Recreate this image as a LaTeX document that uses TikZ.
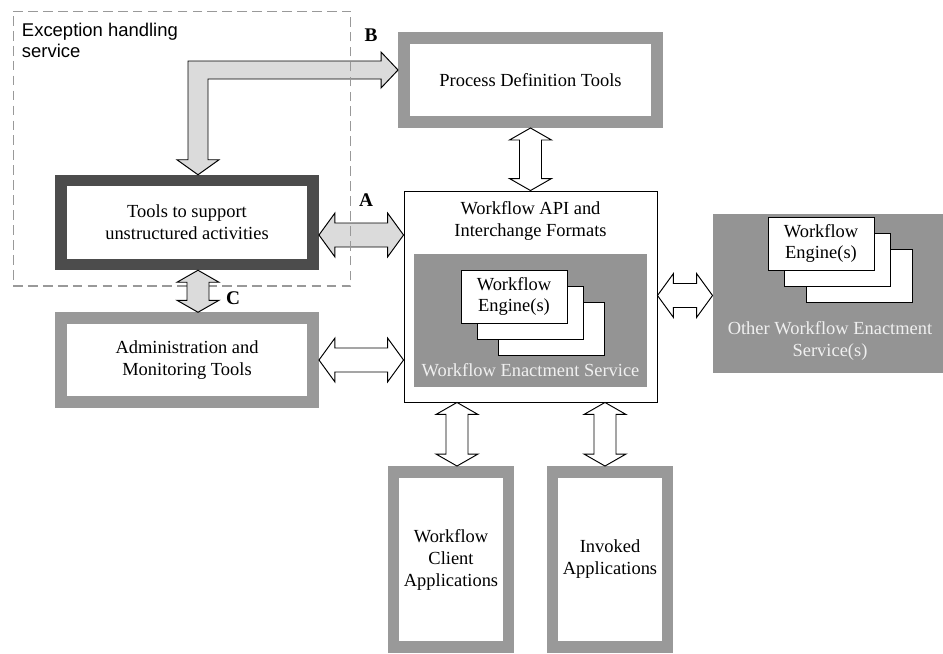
\documentclass[tikz,border=0pt]{standalone}
\usepackage{fontspec}
\setmainfont{Liberation Serif}
\newfontfamily\sansfont{Liberation Sans}
\usetikzlibrary{calc}

\newcommand{\dblh}[4]{%
\path ($(#1)+(0,#3)$) coordinate (hl) (#2 |- hl) coordinate (hr);
\draw[fill=#4] (hl) -- ++(16,-22) -- ++(0,10) -- ($(hr)+(-16,-12)$) -- ++(0,-10) -- (hr) -- ++(-16,22) -- ++(0,-10) -- ($(hl)+(16,12)$) -- ++(0,10) -- cycle;}
\newcommand{\dblv}[4]{%
\path ($(#1)+(#3,0)$) coordinate (vt) (vt |- #2) coordinate (vb);
\draw[fill=#4] (vt) -- ++(21,12) -- ++(-10,0) -- ($(vb)+(11,-12)$) -- ++(10,0) -- (vb) -- ++(-21,-12) -- ++(10,0) -- ($(vt)+(-11,12)$) -- ++(-10,0) -- cycle;}

\begin{document}
\begin{tikzpicture}[x=0.02cm,y=-0.02cm,line width=0.55pt,
  every node/.style={font=\fontsize{10.5}{12.5}\selectfont, align=center},
  toolbox/.style={draw=black!40, line width=0.23cm, fill=white, minimum width=5.05cm, minimum height=1.68cm},
  appbox/.style={toolbox, minimum width=2.31cm, minimum height=3.51cm},
  engine/.style={draw, fill=white, minimum width=2.12cm, minimum height=1.06cm},
  service/.style={fill=black!42, inner sep=0pt},
  groupbox/.style={draw=black!40, line width=0.6pt, dash pattern=on 5.5pt off 3pt},
  tag/.style={font=\fontsize{11}{12}\selectfont\bfseries}]
\useasboundingbox (0,0) rectangle (943,653);

\node[toolbox, minimum width=5.07cm, minimum height=1.69cm] (procdef) at (530.5,80) {Process Definition Tools};
\node[toolbox, draw=black!70] (tools) at (187,222.5) {Tools to support\\unstructured activities};
\node[toolbox] (admin) at (187,360) {Administration and\\Monitoring Tools};
\node[draw, fill=white, minimum width=5.06cm, minimum height=4.22cm] (api) at (530.5,296.5) {};
\node (apititle) at ($(api.north)+(0,30)$) {Workflow API and\\Interchange Formats};
\node[service, minimum width=4.66cm, minimum height=2.66cm] (svc) at (530.5,320.5) {};
\node[text=black!6] (svclabel) at ($(svc.south)+(0,-17)$) {Workflow Enactment Service};
\node[engine] (eng3) at (551,328.5) {};
\node[engine] (eng2) at (530,312.5) {};
\node[engine] (eng1) at (514,296.5) {Workflow\\Engine(s)};
\node[service, minimum width=4.6cm, minimum height=3.18cm] (other) at (828,293.5) {};
\node[engine] (oeng3) at (859,275.5) {};
\node[engine] (oeng2) at (837,259.5) {};
\node[engine] (oeng1) at (821,243.5) {Workflow\\Engine(s)};
\node[text=black!6] (otherlabel) at (830,341) {Other Workflow Enactment\\Service(s)};
\node[appbox] (client) at (451,559.5) {Workflow\\Client\\Applications};
\node[appbox] (invoked) at (610,559.5) {Invoked\\Applications};

\dblv{procdef.south}{api.north}{0}{white}
\dblh{tools.east}{api.west}{12.5}{black!14}
\dblh{admin.east}{api.west}{0}{white}
\dblh{api.east}{other.west}{-1}{white}
\dblv{api.south}{client.north}{-73.5}{white}
\dblv{api.south}{invoked.north}{74.5}{white}
\path ($(tools.north)+(11,0)$) coordinate (bt) ($(procdef.west)+(0,-10)$) coordinate (br) (bt |- br) coordinate (bc);
\draw[fill=black!14] ($(bc)+(-10,-9)$) -- ($(br)+(-17,-9)$) -- ++(0,-9) -- (br) -- ++(-17,18) -- ++(0,-9) -- ($(bc)+(10,9)$) -- ($(bt)+(10,-15)$) -- ++(11,0) -- (bt) -- ++(-21,-15) -- ++(11,0) -- cycle;

\node[groupbox, minimum width=6.76cm, minimum height=5.5cm] (exc) at (182,148.5) {};
\node[font=\sansfont\fontsize{10.5}{11.5}\selectfont, align=left, anchor=north west, inner sep=0pt] (exctitle) at ($(exc.north west)+(9,12.5)$) {Exception handling\\service};
\dblv{tools.south}{admin.north}{11}{black!14}

\node[tag] (labA) at (366,200) {A};
\node[tag] (labB) at (371,35) {B};
\node[tag] (labC) at (233,298) {C};
\end{tikzpicture}
\end{document}
